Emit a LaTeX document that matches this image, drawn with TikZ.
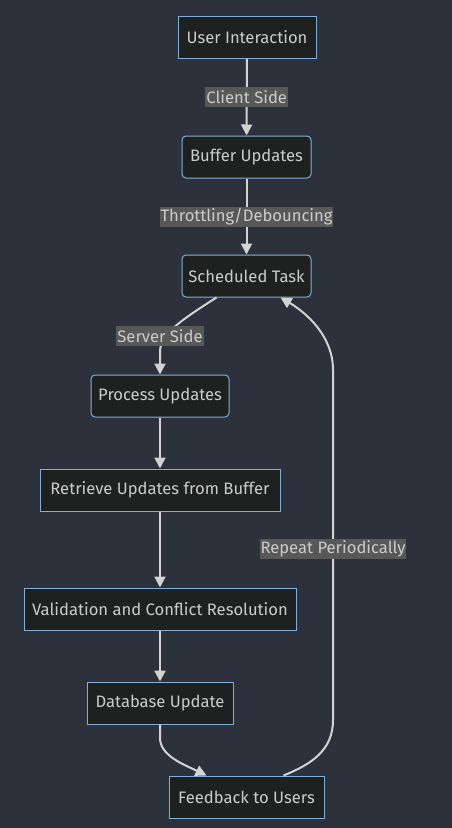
\documentclass[tikz,border=0pt]{standalone}
\usepackage{fontspec}
\setmainfont{Fira Sans}
\usetikzlibrary{arrows.meta}
\definecolor{bgc}{HTML}{2C313C}
\definecolor{nodefill}{HTML}{1F2020}
\definecolor{nodeborder}{HTML}{81B1DB}
\definecolor{txt}{HTML}{CCCCCC}
\definecolor{edgec}{HTML}{D3D3D3}
\definecolor{lblbg}{HTML}{585858}
\tikzset{
  box/.style={draw=nodeborder, fill=nodefill, line width=1pt, text=txt, inner sep=0pt,
    minimum height=42pt, font=\fontsize{16.6}{19}\selectfont},
  rbox/.style={box, rounded corners=4pt},
  lbl/.style={fill=lblbg, text=txt, inner sep=1pt, minimum height=20pt, font=\fontsize{16.6}{19}\selectfont},
  flow/.style={draw=edgec, line width=2pt, -{Triangle[length=11pt,width=11pt]}},
}
\begin{document}
\begin{tikzpicture}[x=1pt,y=-1pt]
\fill[bgc] (0,0) rectangle (452,828);
\useasboundingbox (0,0) rectangle (452,828);

\node[box,  minimum width=138pt] (ui) at (247,37.5) {User Interaction};
\node[rbox, minimum width=129pt] (bu) at (246.5,157) {Buffer Updates};
\node[rbox, minimum width=129pt] (st) at (246.5,276) {Scheduled Task};
\node[rbox, minimum width=138pt] (pu) at (160,396) {Process Updates};
\node[box,  minimum width=240pt] (ru) at (160,490) {Retrieve Updates from Buffer};
\node[box,  minimum width=272pt] (vc) at (160,609) {Validation and Conflict Resolution};
\node[box,  minimum width=146pt] (du) at (160,703) {Database Update};
\node[box,  minimum width=155pt] (fu) at (246.5,797) {Feedback to Users};

\draw[flow] (ui) -- (bu) node[lbl, pos=0.5] (l1) {Client Side};
\draw[flow] (bu) -- (st) node[lbl, pos=0.5] (l2) {Throttling/Debouncing};
\draw[flow] ([xshift=-30pt]st.south) .. controls (178,322) and (160,335) .. (160,352) -- (pu.north);
\node[lbl] (l3) at (160,336) {Server Side};
\draw[flow] (pu) -- (ru);
\draw[flow] (ru) -- (vc);
\draw[flow] (vc) -- (du);
\draw[flow] (du.south) -- (160,738) .. controls (160,756) and (185,765) .. ([xshift=-40pt]fu.north);
\draw[flow] ([xshift=37pt]fu.north) .. controls (312,764) and (333,750) .. (333,720) -- (333,370) .. controls (333,335) and (305,312) .. ([xshift=34pt]st.south);
\node[lbl] (l4) at (333,549) {Repeat Periodically};
\end{tikzpicture}
\end{document}
